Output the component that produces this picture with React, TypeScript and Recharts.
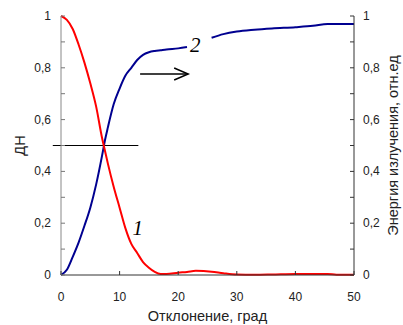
import {
  Line,
  LineChart,
  ReferenceDot,
  ReferenceLine,
  XAxis,
  YAxis,
} from 'recharts';

// deviation angle, degrees
const angles = [
  0, 1, 2, 3, 4, 5, 6, 7, 7.5, 8, 9, 10, 11, 12, 13, 14, 15, 16, 17, 18, 20,
  21.5, 23, 25.7, 27.7, 30, 33, 36, 40, 43, 45.5, 47, 50,
];

// curve 1 - radiation pattern (red)
const pattern = [
  1, 0.985, 0.95, 0.89, 0.82, 0.74, 0.65, 0.53, 0.48, 0.43, 0.34, 0.26, 0.18,
  0.12, 0.085, 0.05, 0.028, 0.012, 0.004, 0.004, 0.009, 0.012, 0.016, 0.013,
  0.007, 0.002, 0.001, 0.002, 0.004, 0.004, 0.004, 0.001, 0.001,
];

// curve 2 - cumulative radiated energy (blue), gap behind the "2" label
const energy = [
  0, 0.02, 0.07, 0.125, 0.19, 0.26, 0.35, 0.46, 0.52, 0.57, 0.66, 0.72, 0.77,
  0.8, 0.83, 0.85, 0.86, 0.865, 0.868, 0.871, 0.875, 0.88, null, 0.916, 0.93,
  0.94, 0.947, 0.952, 0.957, 0.962, 0.969, 0.969, 0.969,
];

const xTicks = [0, 10, 20, 30, 40, 50];
const yTicks = [0, 0.1, 0.2, 0.3, 0.4, 0.5, 0.6, 0.7, 0.8, 0.9, 1];

const data = angles.map((x, i) => ({ x, pattern: pattern[i], energy: energy[i] }));

const font = '"Liberation Sans", Arial, sans-serif';

function fmt(v: number) {
  if (v === 0) return '0';
  if (v === 1) return '1';
  return v.toFixed(1).replace('.', ',');
}

const isMajor = (v: number) => Math.round(v * 10) % 2 === 0;

function LeftTick({ x, y, payload }: any) {
  const v = payload.value;
  return (
    <g>
      <line x1={x} y1={y} x2={x + 4} y2={y} stroke="#777" />
      {isMajor(v) && (
        <text x={x - 10} y={y + 4} textAnchor="end" fontSize={12} fontFamily={font} fill="#222">
          {fmt(v)}
        </text>
      )}
    </g>
  );
}

function RightTick({ x, y, payload }: any) {
  const v = payload.value;
  return (
    <g>
      <line x1={x} y1={y} x2={x - 4} y2={y} stroke="#333" />
      {isMajor(v) && (
        <text x={x + 9} y={y + 4} textAnchor="start" fontSize={12} fontFamily={font} fill="#222">
          {fmt(v)}
        </text>
      )}
    </g>
  );
}

function BottomTick({ x, y, payload }: any) {
  return (
    <g>
      <line x1={x} y1={y} x2={x} y2={y - 4} stroke="#333" />
      <text x={x} y={y + 26} textAnchor="middle" fontSize={12} fontFamily={font} fill="#222">
        {payload.value}
      </text>
    </g>
  );
}

function Arrow(props: any) {
  const { x1, y1, x2, y2 } = props;
  return (
    <g>
      <line x1={x1} y1={y1} x2={x2} y2={y2} stroke="#000" strokeWidth={1.5} />
      <polyline
        points={`${x2 - 14},${y2 - 6} ${x2},${y2} ${x2 - 14},${y2 + 6}`}
        fill="none"
        stroke="#000"
        strokeWidth={1.5}
      />
    </g>
  );
}

function CurveLabel(text: string) {
  return (p: any) => (
    <text
      x={p.cx}
      y={p.cy}
      textAnchor="middle"
      fontSize={21}
      fontStyle="italic"
      fontFamily='"Liberation Serif", "Times New Roman", serif'
      fill="#000"
    >
      {text}
    </text>
  );
}

export default function App() {
  return (
    <div style={{ position: 'absolute', left: 0, top: 0, background: '#fff' }}>
      <LineChart width={403} height={325} data={data} margin={{ top: 16, right: 0, bottom: 0, left: 0 }}>
        <XAxis
          dataKey="x"
          type="number"
          domain={[0, 50]}
          ticks={xTicks}
          tickSize={0}
          tickMargin={0}
          tickLine={false}
          tick={<BottomTick />}
          axisLine={{ stroke: '#333' }}
          height={50}
          label={{
            content: ({ viewBox }: any) => (
              <text
                x={viewBox.x + viewBox.width / 2}
                y={viewBox.y + 46}
                textAnchor="middle"
                fontSize={14.5}
                fontFamily={font}
                fill="#222"
              >
                Отклонение, град
              </text>
            ),
          }}
        />
        <YAxis
          yAxisId="left"
          type="number"
          domain={[0, 1]}
          ticks={yTicks}
          width={61}
          tickSize={0}
          tickMargin={0}
          tickLine={false}
          tick={<LeftTick />}
          axisLine={{ stroke: '#888' }}
          label={{
            content: ({ viewBox }: any) => (
              <text
                x={25}
                y={viewBox.y + viewBox.height / 2}
                transform={`rotate(-90 25 ${viewBox.y + viewBox.height / 2})`}
                textAnchor="middle"
                fontSize={14.5}
                fontFamily={font}
                fill="#222"
              >
                ДН
              </text>
            ),
          }}
        />
        <YAxis
          yAxisId="right"
          orientation="right"
          type="number"
          domain={[0, 1]}
          ticks={yTicks}
          width={49}
          tickSize={0}
          tickMargin={0}
          tickLine={false}
          includeHidden
          tick={<RightTick />}
          axisLine={{ stroke: '#333' }}
          label={{
            content: ({ viewBox }: any) => (
              <text
                x={398}
                y={viewBox.y + viewBox.height / 2}
                transform={`rotate(-90 398 ${viewBox.y + viewBox.height / 2})`}
                textAnchor="middle"
                fontSize={14.5}
                fontFamily={font}
                fill="#222"
              >
                Энергия излучения, отн.ед
              </text>
            ),
          }}
        />
        <ReferenceLine
          yAxisId="left"
          segment={[
            { x: -1.4, y: 0.5 },
            { x: 13.2, y: 0.5 },
          ]}
          stroke="#000"
          strokeWidth={1}
          ifOverflow="visible"
        />
        {/* hidden copy of curve 2 so the right energy axis gets drawn */}
        <Line yAxisId="right" dataKey="energy" hide isAnimationActive={false} />
        <Line
          yAxisId="left"
          dataKey="energy"
          stroke="#000090"
          strokeWidth={2}
          dot={false}
          type="monotone"
          connectNulls={false}
          isAnimationActive={false}
        />
        <Line
          yAxisId="left"
          dataKey="pattern"
          stroke="#ff0000"
          strokeWidth={2}
          dot={false}
          type="monotone"
          isAnimationActive={false}
        />
        <ReferenceLine
          yAxisId="left"
          segment={[
            { x: 13.5, y: 0.776 },
            { x: 21.7, y: 0.776 },
          ]}
          shape={Arrow}
          ifOverflow="visible"
        />
        <ReferenceDot yAxisId="left" x={13.1} y={0.154} r={0} shape={CurveLabel('1')} ifOverflow="visible" />
        <ReferenceDot yAxisId="left" x={22.9} y={0.861} r={0} shape={CurveLabel('2')} ifOverflow="visible" />
      </LineChart>
    </div>
  );
}
